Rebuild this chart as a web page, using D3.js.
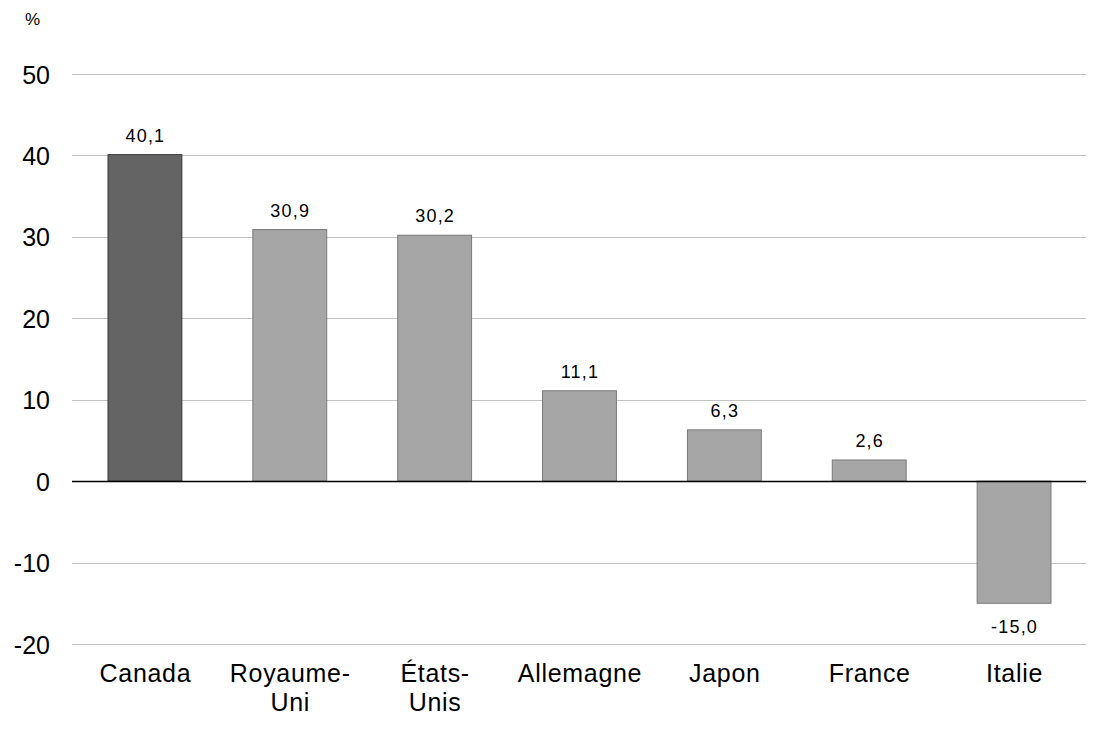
<!DOCTYPE html>
<html>
<head>
<meta charset="utf-8">
<script src="https://cdn.jsdelivr.net/npm/d3@7"></script>
<style>
  html, body { margin: 0; padding: 0; background: #fff; }
  svg { display: block; font-family: "Liberation Sans", Arial, sans-serif; }
</style>
</head>
<body>
<svg id="chart" width="1100" height="733"></svg>
<script>
const categories = [["Canada"], ["Royaume-", "Uni"], ["États-", "Unis"], ["Allemagne"], ["Japon"], ["France"], ["Italie"]];
const values = [40.1, 30.9, 30.2, 11.1, 6.3, 2.6, -15.0];
const highlight = [true, false, false, false, false, false, false];
const yTicks = [-20, -10, 0, 10, 20, 30, 40, 50];
const unitLabel = "%";

const svg = d3.select("#chart");
const margin = { left: 72, right: 14, top: 74, bottom: 89 };
const W = 1100, H = 733;

const keys = categories.map(c => c.join(" "));
const x = d3.scaleBand().domain(keys).range([margin.left, W - margin.right]).paddingInner(0.49).paddingOuter(0.245);
const y = d3.scaleLinear().domain([-20, 50]).range([H - margin.bottom, margin.top]);

// gridlines
svg.append("g").selectAll("line").data(yTicks.filter(t => t !== 0)).join("line")
  .attr("x1", margin.left).attr("x2", W - margin.right)
  .attr("y1", d => Math.round(y(d)) + 0.5).attr("y2", d => Math.round(y(d)) + 0.5)
  .attr("stroke", "#c3c3c3").attr("stroke-width", 1);

// y axis labels
const yAxis = d3.axisLeft(y).tickValues(yTicks).tickSize(0).tickPadding(0)
  .tickFormat(d => String(d));
const yg = svg.append("g").attr("transform", `translate(50,0)`).call(yAxis);
yg.select(".domain").remove();
yg.selectAll("text").attr("font-size", 25).attr("fill", "#000")
  .attr("font-family", "Liberation Sans, Arial, sans-serif").attr("dy", "0.36em");

// unit
svg.append("text").attr("x", 25).attr("y", 25).attr("font-size", 17).text(unitLabel);

// bars
const data = values.map((v, i) => ({ key: keys[i], v, hl: highlight[i] }));
svg.append("g").selectAll("rect").data(data).join("rect")
  .attr("x", d => x(d.key) + 0.5)
  .attr("width", x.bandwidth())
  .attr("y", d => y(Math.max(0, d.v)))
  .attr("height", d => Math.abs(y(d.v) - y(0)))
  .attr("fill", d => d.hl ? "#646464" : "#a6a6a6")
  .attr("stroke", d => d.hl ? "#3a3a3a" : "#7a7a7a")
  .attr("stroke-width", 1);

// zero line
svg.append("line").attr("x1", margin.left).attr("x2", W - margin.right)
  .attr("y1", Math.round(y(0)) + 0.5).attr("y2", Math.round(y(0)) + 0.5)
  .attr("stroke", "#000").attr("stroke-width", 1.5);

// value labels
const fmt = v => d3.format(".1f")(v).replace("−", "-").replace(".", ",");
svg.append("g").selectAll("text").data(data).join("text")
  .attr("x", d => x(d.key) + x.bandwidth() / 2 + 1)
  .attr("y", d => d.v >= 0 ? y(d.v) - 13 : y(d.v) + 30)
  .attr("text-anchor", "middle").attr("font-size", 18).attr("letter-spacing", 1.2)
  .attr("fill", "#000").text(d => fmt(d.v));

// category labels
const cg = svg.append("g").selectAll("text").data(categories).join("text")
  .attr("x", (d, i) => x(keys[i]) + x.bandwidth() / 2 + 1)
  .attr("y", 682)
  .attr("text-anchor", "middle").attr("font-size", 25).attr("letter-spacing", 0.7).attr("fill", "#000");
cg.each(function(d, i) {
  const t = d3.select(this);
  d.forEach((line, j) => {
    t.append("tspan").attr("x", x(keys[i]) + x.bandwidth() / 2 + 1).attr("dy", j === 0 ? 0 : 29).text(line);
  });
});
</script>
</body>
</html>
